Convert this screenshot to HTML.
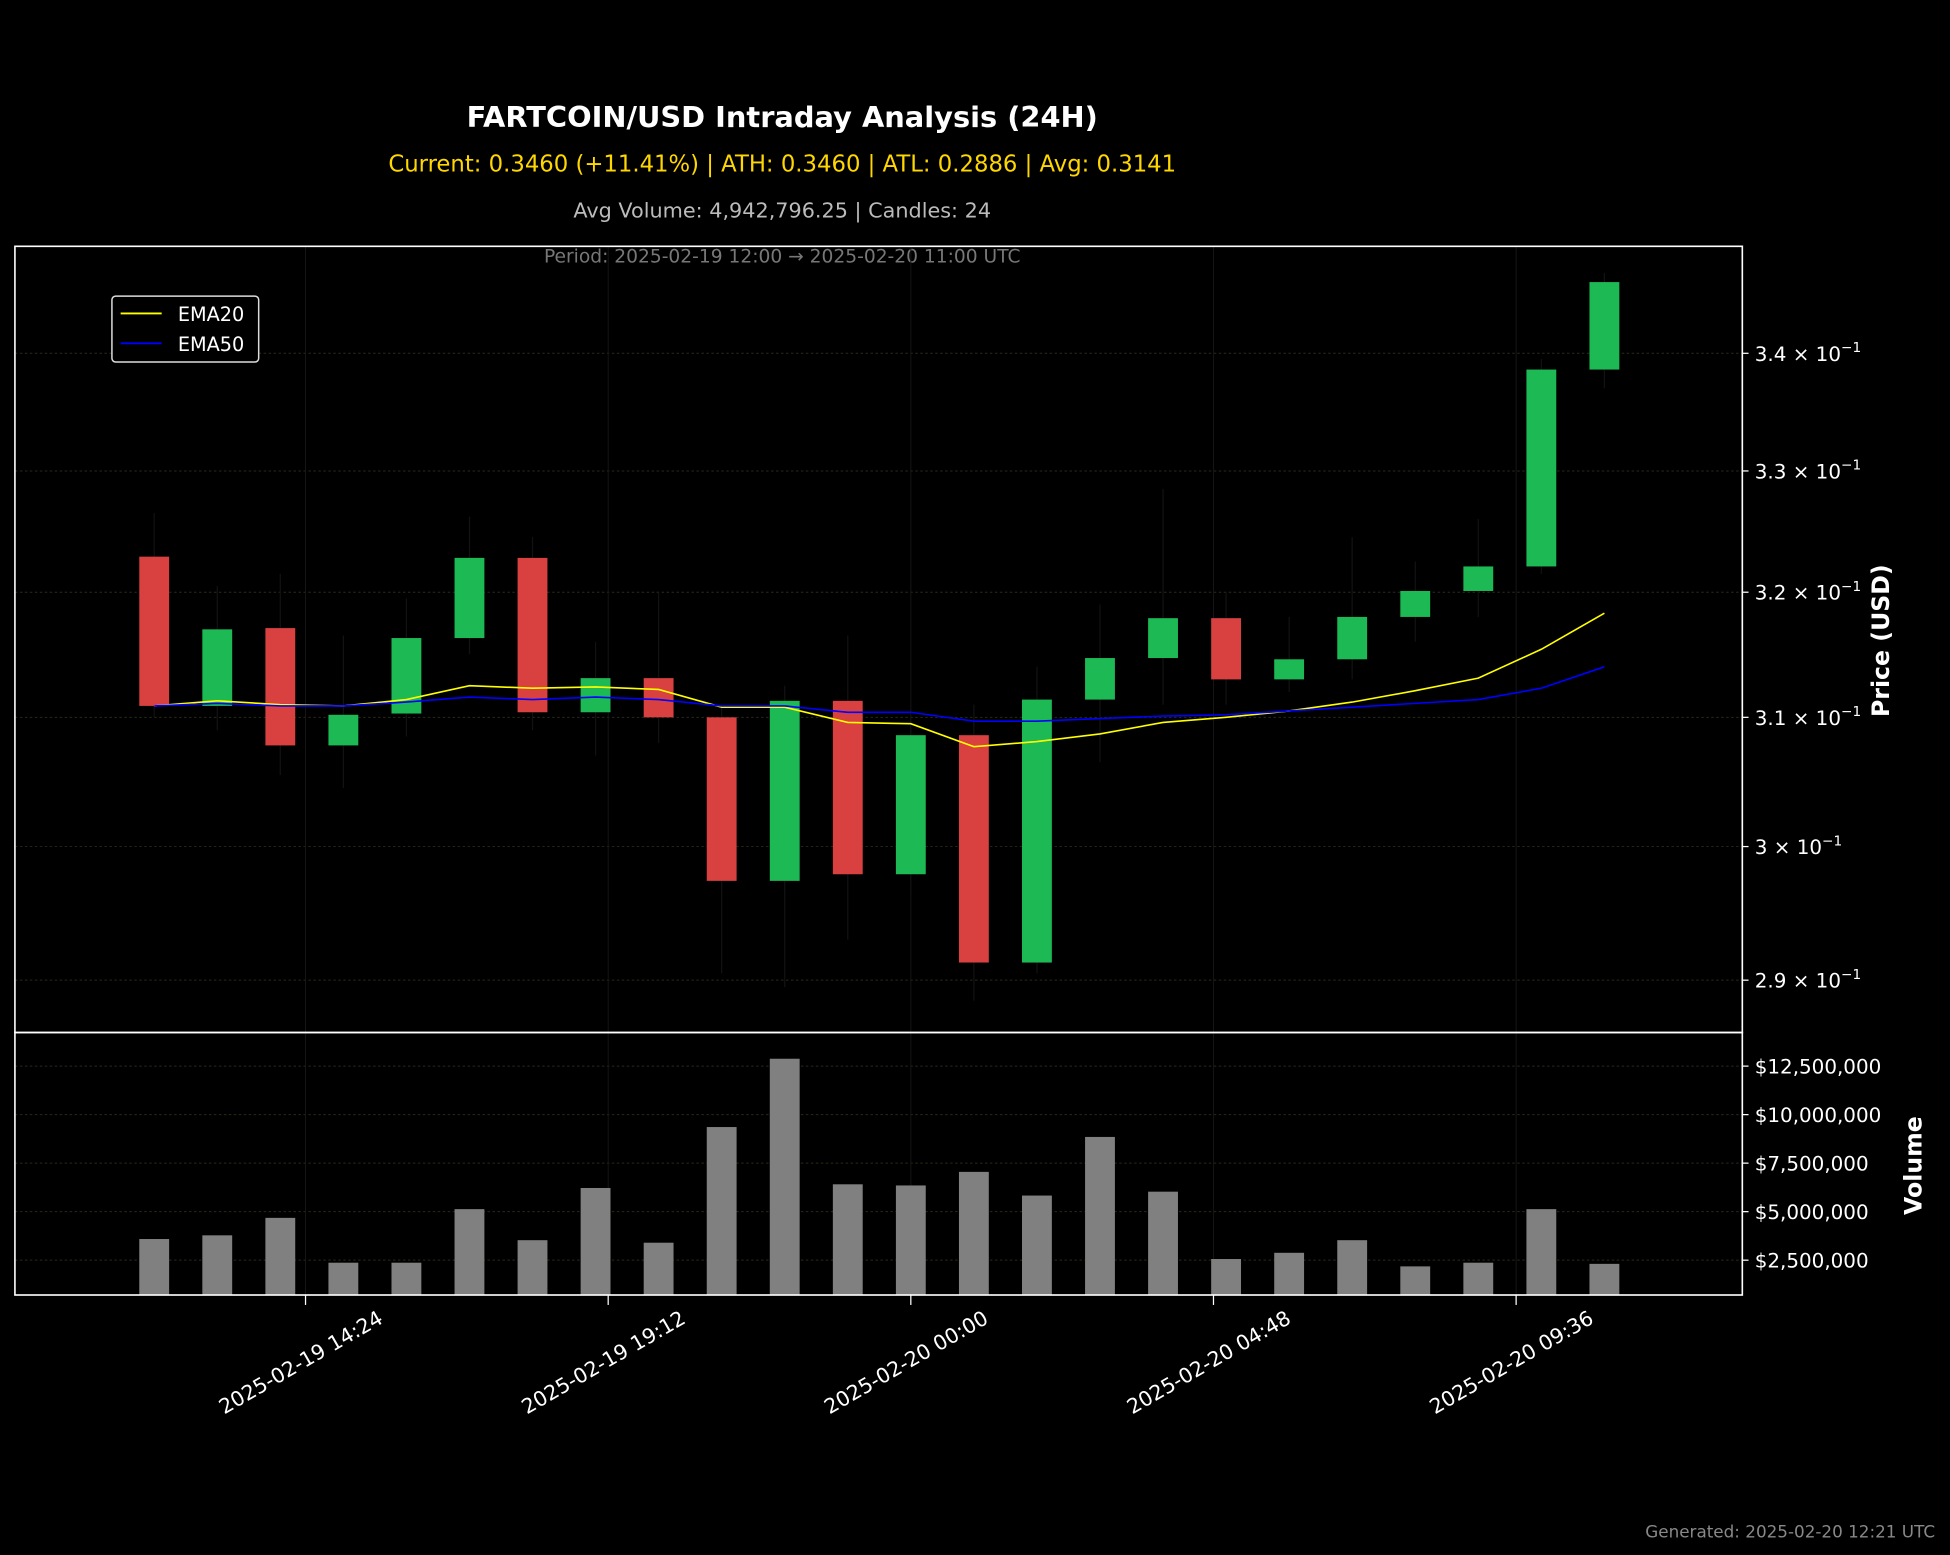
<!DOCTYPE html>
<html><head><meta charset="utf-8"><style>
html,body{margin:0;padding:0;background:#000;}
svg{display:block;font-family:"DejaVu Sans","Liberation Sans",sans-serif;}
</style></head><body>
<svg id="chart" width="1950" height="1555" viewBox="0 0 1568 1250" preserveAspectRatio="none" xmlns="http://www.w3.org/2000/svg">
<rect width="1568" height="1250" fill="#000"/>
<text x="629" y="102" fill="#fff" font-size="23.2" font-weight="bold" text-anchor="middle">FARTCOIN/USD Intraday Analysis (24H)</text>
<text x="629" y="138" fill="#ffd700" font-size="18.3" text-anchor="middle">Current: 0.3460 (+11.41%) | ATH: 0.3460 | ATL: 0.2886 | Avg: 0.3141</text>
<text x="629" y="175" fill="#bbb" font-size="16.7" text-anchor="middle">Avg Volume: 4,942,796.25 | Candles: 24</text>
<text x="629" y="211" fill="#777" font-size="15" text-anchor="middle">Period: 2025-02-19 12:00 → 2025-02-20 11:00 UTC</text>
<g id="grid"></g>
<g id="marks"></g>
<g id="axes"></g>
<g>
<rect x="90" y="238" width="118" height="53" rx="3" fill="#000" stroke="#ddd" stroke-width="1.2"/>
<line x1="97" y1="252" x2="130" y2="252" stroke="#ffff00" stroke-width="1.5"/>
<text x="143" y="258" fill="#fff" font-size="15.5">EMA20</text>
<line x1="97" y1="276" x2="130" y2="276" stroke="#0000ff" stroke-width="1.5"/>
<text x="143" y="282" fill="#fff" font-size="15.5">EMA50</text>
</g>
<text transform="translate(1519,515) rotate(-90)" fill="#fff" font-size="19" font-weight="bold" text-anchor="middle">Price (USD)</text>
<text transform="translate(1545,937) rotate(-90)" fill="#fff" font-size="19" font-weight="bold" text-anchor="middle">Volume</text>
<text x="1556" y="1236" fill="#888" font-size="13.5" text-anchor="end">Generated: 2025-02-20 12:21 UTC</text>
</svg>
<script>
const opens  = [0.3229,0.3109,0.3171,0.3078,0.3103,0.3163,0.3228,0.3104,0.3131,0.3100,0.2974,0.3113,0.2979,0.3086,0.2913,0.3114,0.3147,0.3179,0.3130,0.3146,0.3180,0.3201,0.3221,0.3386];
const closes = [0.3109,0.3170,0.3078,0.3102,0.3163,0.3228,0.3104,0.3131,0.3100,0.2974,0.3113,0.2979,0.3086,0.2913,0.3114,0.3147,0.3179,0.3130,0.3146,0.3180,0.3201,0.3221,0.3386,0.3462];
const highs  = [0.3265,0.3205,0.3215,0.3165,0.3195,0.3262,0.3245,0.3160,0.3200,0.3110,0.3125,0.3165,0.3090,0.3110,0.3140,0.3190,0.3285,0.3200,0.3180,0.3245,0.3225,0.3260,0.3395,0.3470];
const lows   = [0.3100,0.3090,0.3055,0.3045,0.3085,0.3150,0.3090,0.3070,0.3080,0.2905,0.2895,0.2930,0.2965,0.2885,0.2905,0.3065,0.3110,0.3110,0.3120,0.3130,0.3160,0.3180,0.3215,0.3370];
const ema20  = [0.3109,0.3113,0.3110,0.3109,0.3114,0.3125,0.3123,0.3124,0.3122,0.3108,0.3108,0.3096,0.3095,0.3077,0.3081,0.3087,0.3096,0.3100,0.3105,0.3112,0.3121,0.3131,0.3154,0.3183];
const ema50  = [0.3109,0.3111,0.3109,0.3109,0.3112,0.3116,0.3114,0.3116,0.3114,0.3109,0.3109,0.3104,0.3104,0.3097,0.3097,0.3099,0.3101,0.3102,0.3105,0.3108,0.3111,0.3114,0.3123,0.3140];
const volumes = [3590000,3780000,4680000,2370000,2370000,5130000,3530000,6220000,3400000,9360000,12880000,6410000,6350000,7050000,5830000,8850000,6030000,2560000,2880000,3530000,2180000,2370000,5130000,2310000];
const priceTicks = [0.29,0.30,0.31,0.32,0.33,0.34];
const priceTickLabels = ["2.9","3","3.1","3.2","3.3","3.4"];
const volTicks = [2500000,5000000,7500000,10000000,12500000];
const volTickLabels = ["$2,500,000","$5,000,000","$7,500,000","$10,000,000","$12,500,000"];
const timeTickHours = [2.4,7.2,12,16.8,21.6];
const timeTickLabels = ["2025-02-19 14:24","2025-02-19 19:12","2025-02-20 00:00","2025-02-20 04:48","2025-02-20 09:36"];

const NS="http://www.w3.org/2000/svg";
const L=12,R=1401,PT=198,PB=830,VT=830,VB=1041;
function x(h){return 124+h*50.7;}
function yP(p){return 284-Math.log(p/0.34)*3168;}
function yV(v){return 1052-v/2500000*39;}
function mk(parent,tag,attrs){const e=document.createElementNS(NS,tag);for(const k in attrs)e.setAttribute(k,attrs[k]);document.getElementById(parent).appendChild(e);return e;}

priceTicks.forEach(t=>{const e=mk('grid','line',{x1:L,x2:R,y1:yP(t),y2:yP(t),stroke:'#2a2a1a','stroke-dasharray':'2,2','stroke-width':0.8});

});
volTicks.forEach(t=>{const e=mk('grid','line',{x1:L,x2:R,y1:yV(t),y2:yV(t),stroke:'#2a2a1a','stroke-dasharray':'2,2','stroke-width':0.8});

});
timeTickHours.forEach(h=>{const e=mk('grid','line',{x1:x(h),x2:x(h),y1:PT,y2:VB,stroke:'#161616','stroke-width':0.8});

});

opens.forEach((o,i)=>{
 const c=closes[i],col=c>=o?'#1db954':'#d94040';
 const w=mk('marks','line',{x1:x(i),x2:x(i),y1:yP(highs[i]),y2:yP(lows[i]),stroke:'#121212','stroke-width':1});
 
 
 const top=yP(Math.max(o,c)),bot=yP(Math.min(o,c));
 const b=mk('marks','rect',{x:x(i)-12,y:top,width:24,height:Math.max(bot-top,1),fill:col});
 
 
});
const e20=mk('marks','polyline',{points:ema20.map((v,i)=>x(i)+','+yP(v)).join(' '),fill:'none',stroke:'#ffff00','stroke-width':1.3});


const e50=mk('marks','polyline',{points:ema50.map((v,i)=>x(i)+','+yP(v)).join(' '),fill:'none',stroke:'#0000ff','stroke-width':1.3});


volumes.forEach((v,i)=>{const r=mk('marks','rect',{x:x(i)-12,y:yV(v),width:24,height:VB-yV(v),fill:'#808080'});

});

const f1=mk('axes','rect',{x:L,y:PT,width:R-L,height:PB-PT,fill:'none',stroke:'#fff','stroke-width':1.3});


const f2=mk('axes','rect',{x:L,y:VT,width:R-L,height:VB-VT,fill:'none',stroke:'#fff','stroke-width':1.3});


priceTicks.forEach((t,i)=>{
 mk('axes','line',{x1:R,x2:R+5,y1:yP(t),y2:yP(t),stroke:'#fff'});
 const tx=mk('axes','text',{x:R+10,y:yP(t)+6,fill:'#fff','font-size':16});
 
 
 tx.textContent=priceTickLabels[i]+' × 10';
 const s=document.createElementNS(NS,'tspan');s.setAttribute('dy','-7');s.setAttribute('font-size','11');s.textContent='−1';tx.appendChild(s);
});
volTicks.forEach((t,i)=>{
 mk('axes','line',{x1:R,x2:R+5,y1:yV(t),y2:yV(t),stroke:'#fff'});
 const tx=mk('axes','text',{x:R+10,y:yV(t)+6,fill:'#fff','font-size':16});
 
 
 tx.textContent=volTickLabels[i];
});
timeTickHours.forEach((h,i)=>{
 mk('axes','line',{x1:x(h),x2:x(h),y1:VB,y2:VB+8,stroke:'#fff'});
 const tx=mk('axes','text',{transform:'translate('+(x(h)-1)+',1100) rotate(-30)',fill:'#fff','font-size':16.5,'text-anchor':'middle'});
 
 
 tx.textContent=timeTickLabels[i];
});
</script>
</body></html>
